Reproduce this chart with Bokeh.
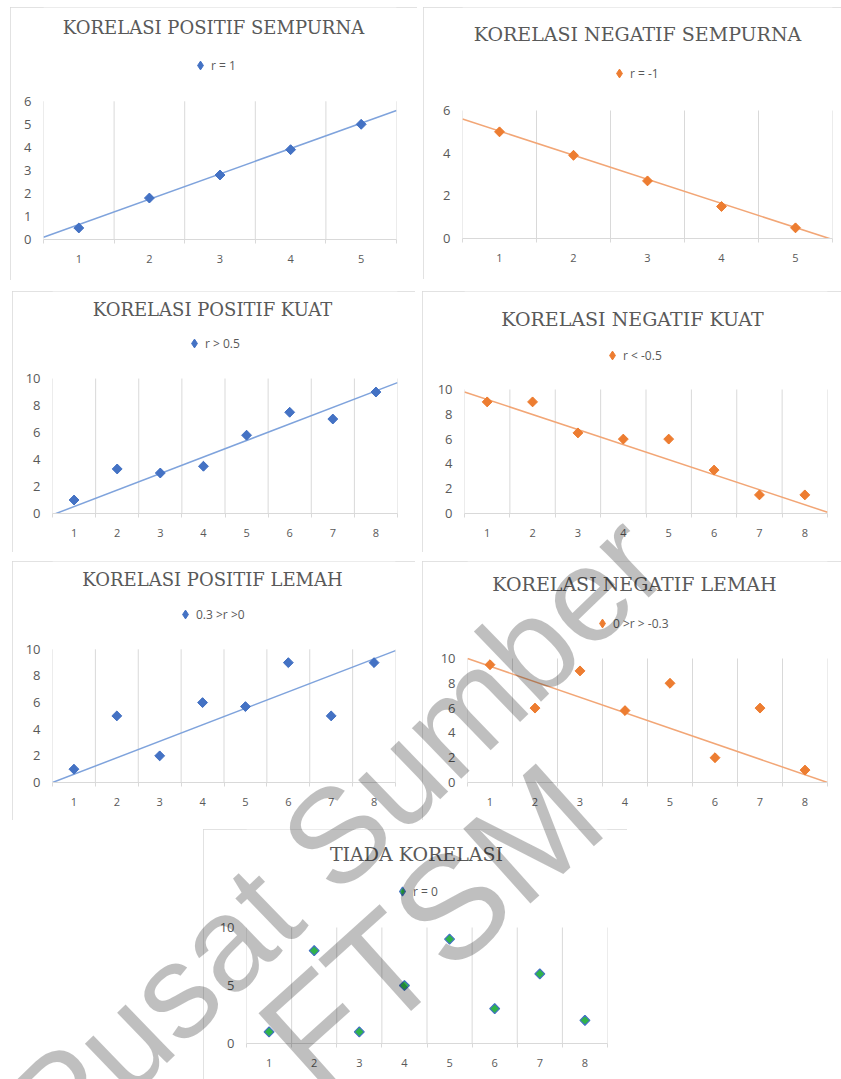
import math
from bokeh.plotting import figure
from bokeh.models import FixedTicker, Label, Legend, LegendItem, Range1d
from bokeh.layouts import column, row
from bokeh.embed import file_html
from bokeh.resources import INLINE

# ---------------- data ----------------
titles = ["KORELASI POSITIF SEMPURNA", "KORELASI NEGATIF SEMPURNA",
          "KORELASI POSITIF KUAT", "KORELASI NEGATIF KUAT",
          "KORELASI POSITIF LEMAH", "KORELASI NEGATIF LEMAH",
          "TIADA KORELASI"]
legend_labels = ["r = 1", "r = -1", "r > 0.5", "r < -0.5",
                 "0.3 >r >0", "0 >r > -0.3", "r = 0"]
watermark = ["Pusat Sumber", "FTSM"]

x5 = [1, 2, 3, 4, 5]
x8 = [1, 2, 3, 4, 5, 6, 7, 8]

p1_y = [0.5, 1.8, 2.8, 3.9, 5.0]
p1_trend = [0.1, 5.6]
p2_y = [5.0, 3.9, 2.7, 1.5, 0.5]
p2_trend = [5.6, -0.05]
p3_y = [1.0, 3.3, 3.0, 3.5, 5.8, 7.5, 7.0, 9.0]
p3_trend = [-0.1, 9.7]
p4_y = [9.0, 9.0, 6.5, 6.0, 6.0, 3.5, 1.5, 1.5]
p4_trend = [9.8, 0.1]
p5_y = [1.0, 5.0, 2.0, 6.0, 5.7, 9.0, 5.0, 9.0]
p5_trend = [0.0, 9.9]
p6_y = [9.5, 6.0, 9.0, 5.8, 8.0, 2.0, 6.0, 1.0]
p6_trend = [10.0, 0.0]
p7_y = [1.0, 8.0, 1.0, 5.0, 9.0, 3.0, 6.0, 2.0]

y_ticks_6_1 = [0, 1, 2, 3, 4, 5, 6]
y_ticks_6_2 = [0, 2, 4, 6]
y_ticks_10_2 = [0, 2, 4, 6, 8, 10]
y_ticks_10_5 = [0, 5, 10]

BLUE = "#4472C4"
BLUE_T = "#7fa3dc"
ORANGE = "#ED7D31"
ORANGE_T = "#f2a676"
GREEN = "#2fb34a"
GRID = "#d9d9d9"
TXT = "#595959"


def make_panel(xs, ys, trend, title, label, ymax, yticks, color, tcolor,
               w, h, borders, title_xy, title_size, legend_xy, margin,
               edge_color=None):
    left, right, top, bottom = borders
    n = len(xs)
    plot_h = h - top - bottom
    y_end = ymax + top * ymax / plot_h   # frame reaches the top edge; data area stays 0..ymax
    p = figure(width=w, height=h, x_range=Range1d(0.5, n + 0.5),
               y_range=Range1d(0, y_end), output_backend="svg",
               toolbar_location=None, title=None,
               min_border_left=left, min_border_right=right,
               min_border_top=0, min_border_bottom=bottom, margin=margin)
    p.outline_line_color = None
    p.background_fill_color = "white"
    p.border_fill_color = "white"
    p.styles = {"outline": "1px solid #d9d9d9", "outline-offset": "-1px"}

    p.xgrid.visible = False
    p.ygrid.visible = False
    bounds = [i + 0.5 for i in range(n + 1)]
    p.segment(x0=bounds, y0=[0] * len(bounds), x1=bounds, y1=[ymax] * len(bounds),
              line_color=GRID, line_width=1)

    xa = p.xaxis[0]
    xa.ticker = FixedTicker(ticks=xs, minor_ticks=bounds)
    xa.axis_line_color = GRID
    xa.major_tick_line_color = None
    xa.major_tick_out = 0
    xa.major_tick_in = 0
    xa.minor_tick_line_color = GRID
    xa.minor_tick_out = 4
    xa.minor_tick_in = 0
    xa.major_label_standoff = 11
    xa.major_label_text_font = "Open Sans"
    xa.major_label_text_font_size = "11px"
    xa.major_label_text_color = TXT

    ya = p.yaxis[0]
    ya.ticker = FixedTicker(ticks=yticks)
    ya.axis_line_color = None
    ya.major_tick_line_color = None
    ya.minor_tick_line_color = None
    ya.major_tick_out = 0
    ya.major_tick_in = 0
    ya.major_label_standoff = 12
    ya.major_label_text_font = "Open Sans"
    ya.major_label_text_font_size = "13px"
    ya.major_label_text_color = TXT

    if trend is not None:
        p.line(x=[0.5, n + 0.5], y=trend, line_color=tcolor, line_width=1.5)
    ec = edge_color or color
    lw = 1.2 if edge_color else 1
    # diamond renderer (hidden under the rotated squares) supplies the legend glyph
    r_leg = p.scatter(x=xs, y=ys, marker="diamond", size=9,
                      fill_color=color, line_color=ec, line_width=lw)
    p.scatter(x=xs, y=ys, marker="square", size=7, angle=math.pi / 4,
              fill_color=color, line_color=ec, line_width=lw)

    fb = h - bottom
    tx, ty = title_xy
    p.add_layout(Label(x=tx - left, y=fb - ty, x_units="screen", y_units="screen",
                       text=title, text_align="center", text_baseline="middle",
                       text_font="DejaVu Serif", text_font_size=title_size,
                       text_color=TXT))

    mx, my = legend_xy
    gw = 22
    row_h = 22
    leg = Legend(items=[LegendItem(label=label, renderers=[r_leg])],
                 location=(mx - left - gw / 2, fb - my - row_h / 2),
                 orientation="horizontal",
                 glyph_width=gw, glyph_height=row_h, label_height=row_h,
                 label_standoff=0, padding=0, margin=0, spacing=0,
                 background_fill_alpha=0, border_line_color=None,
                 label_text_font="Open Sans", label_text_font_size="12px",
                 label_text_color=TXT)
    p.add_layout(leg, "center")
    return p


p1 = make_panel(x5, p1_y, p1_trend, titles[0], legend_labels[0], 6, y_ticks_6_1,
                BLUE, BLUE_T, 407, 273, (33, 21, 95, 38), (203, 23), "18px",
                (190, 61), (7, 0, 0, 10))
p2 = make_panel(x5, p2_y, p2_trend, titles[1], legend_labels[1], 6, y_ticks_6_2,
                ORANGE, ORANGE_T, 418, 272, (39, 9, 103, 41), (214, 26), "19px",
                (196, 66), (7, 0, 0, 6))
p3 = make_panel(x8, p3_y, p3_trend, titles[2], legend_labels[2], 10, y_ticks_10_2,
                BLUE, BLUE_T, 403, 261, (40, 18, 89, 34), (200, 23), "18px",
                (182, 57), (11, 0, 0, 12))
p4 = make_panel(x8, p4_y, p4_trend, titles[3], legend_labels[3], 10, y_ticks_10_2,
                ORANGE, ORANGE_T, 419, 261, (42, 14, 98, 39), (210, 27), "19px",
                (190, 64), (11, 0, 0, 7))
p5 = make_panel(x8, p5_y, p5_trend, titles[4], legend_labels[4], 10, y_ticks_10_2,
                BLUE, BLUE_T, 403, 259, (40, 20, 89, 35), (200, 21), "18px",
                (173, 56), (9, 0, 0, 12))
p6 = make_panel(x8, p6_y, p6_trend, titles[5], legend_labels[5], 10, y_ticks_10_2,
                ORANGE, ORANGE_T, 419, 259, (45, 14, 97, 38), (212, 22), "19px",
                (180, 62), (9, 0, 0, 7))
p7 = make_panel(x8, p7_y, None, titles[6], legend_labels[6], 10, y_ticks_10_5,
                GREEN, None, 424, 250, (43, 20, 98, 36), (213, 24), "19px",
                (199, 62), (9, 0, 0, 203), edge_color=BLUE)

# watermark overlay (transparent, full page, on top)
W, H = 841, 1079
ov = figure(width=W, height=H, x_range=Range1d(0, W), y_range=Range1d(H, 0),
            output_backend="svg", toolbar_location=None, title=None,
            x_axis_type=None, y_axis_type=None,
            min_border=0, margin=0)
ov.xgrid.visible = False
ov.ygrid.visible = False
ov.outline_line_color = None
ov.background_fill_alpha = 0
ov.border_fill_alpha = 0
ov.styles = {"position": "absolute", "left": "0px", "top": "0px",
             "pointer-events": "none", "z-index": "10"}
ov.add_layout(Label(x=336, y=834, text=watermark[0], angle=44, angle_units="deg",
                    text_align="center", text_baseline="middle",
                    text_font="Liberation Sans", text_font_size="134px",
                    text_color="black", text_alpha=0.25))
ov.add_layout(Label(x=430, y=925, text=watermark[1], angle=42, angle_units="deg",
                    text_align="center", text_baseline="middle",
                    text_font="Liberation Sans", text_font_size="146px",
                    text_color="black", text_alpha=0.25))

layout = column(row(p1, p2), row(p3, p4), row(p5, p6), row(p7), ov,
                styles={"position": "relative"})

with open("out.html", "w") as f:
    f.write(file_html(layout, INLINE))
